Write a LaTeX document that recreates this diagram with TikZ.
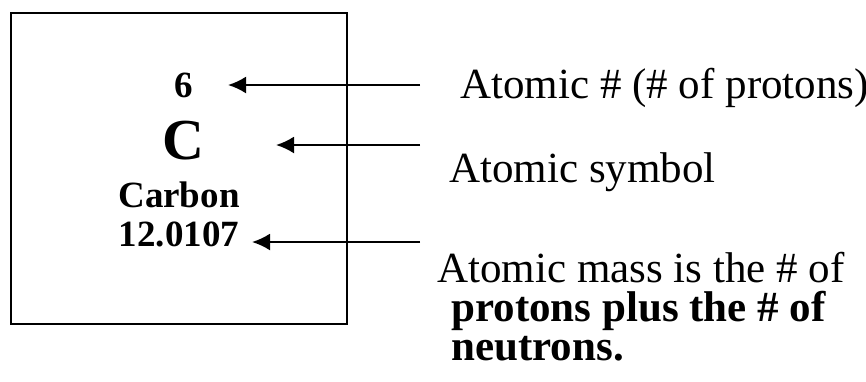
\documentclass[tikz,border=0pt]{standalone}
\usepackage{fontspec}
\setmainfont{Liberation Serif}
\usetikzlibrary{arrows.meta}

\begin{document}
\begin{tikzpicture}[x=0.5pt,y=-0.5pt,
	elem/.style={font=\bfseries\fontsize{18.5}{20}\selectfont,anchor=base,inner sep=0pt},
	note/.style={font=\fontsize{21.5}{23}\selectfont,anchor=base west,inner sep=0pt},
	pointer/.style={-{Latex[length=9pt,width=8.5pt]},line width=1.1pt}]
			\useasboundingbox (0,0) rectangle (866,381);
			\draw[line width=1.3pt] (11,13) rectangle (347,324);
			\node[elem] (num) at (184,97) {6};
			\node[elem,font=\bfseries\fontsize{29}{31}\selectfont] (sym) at (183,159) {C};
			\node[elem] (name) at (179,207) {Carbon};
			\node[elem] (mass) at (179,246) {12.0107};
			\coordinate (tl1) at (420,85);
			\coordinate (hd1) at (228,85);
			\coordinate (tl2) at (420,145);
			\coordinate (hd2) at (276,145);
			\coordinate (tl3) at (420,242);
			\coordinate (hd3) at (252,242);
			\draw[pointer] (tl1) -- (hd1);
			\draw[pointer] (tl2) -- (hd2);
			\draw[pointer] (tl3) -- (hd3);
			\node[note] (numtxt) at (460,98) {Atomic \# (\# of protons)};
			\node[note] (symtxt) at (449,182) {Atomic symbol};
			\node[note] (masstxt) at (437,282) {Atomic mass is the \# of};
			\node[note,font=\bfseries\fontsize{21.5}{23}\selectfont] (masstxtb) at (451,321) {protons plus the \# of};
			\node[note,font=\bfseries\fontsize{21.5}{23}\selectfont] (masstxtc) at (451,360) {neutrons.};
		\end{tikzpicture}
\end{document}
